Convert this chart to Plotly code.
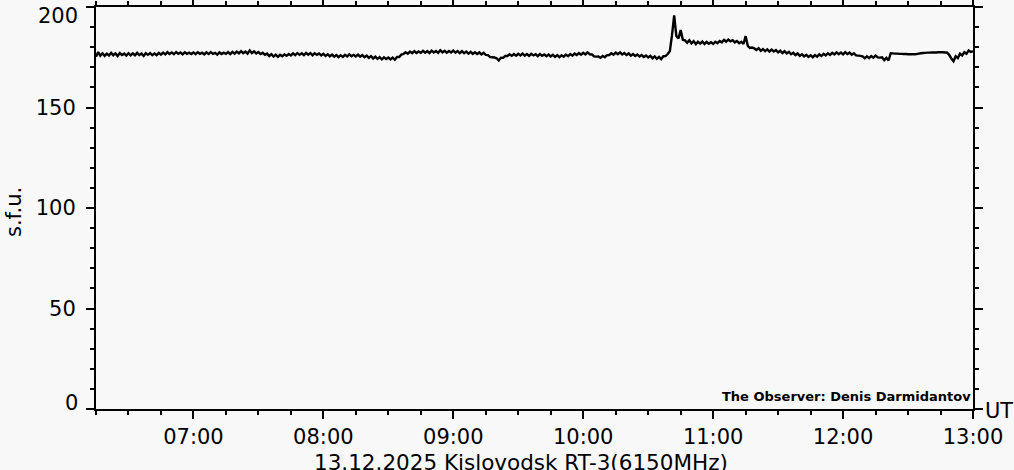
import plotly.graph_objects as go
import pandas as pd

start_time = "2025-12-13 06:15"
flux_sfu = [
    # 06:15
    175.2, 177.6, 175.8, 177.0, 175.7, 176.8, 175.9, 177.2, 176.0, 176.9, 175.6, 177.1, 176.1, 176.8, 175.8,
    # 06:30
    177.0, 175.9, 176.9, 176.0, 177.2, 176.1, 176.8, 175.7, 177.0, 176.2, 177.1, 176.0, 176.9, 176.1, 177.2,
    # 06:45
    176.3, 177.3, 176.4, 177.5, 176.6, 177.4, 176.5, 177.6, 176.7, 177.4, 176.4, 177.5, 176.7, 177.3, 176.6,
    # 07:00
    177.4, 176.5, 177.5, 176.7, 177.3, 176.4, 177.4, 176.6, 177.6, 176.7, 177.2, 176.3, 177.4, 176.6, 177.3,
    # 07:15
    176.7, 177.6, 176.6, 177.7, 176.8, 177.8, 176.9, 178.0, 177.0, 177.8, 176.8, 178.4, 177.1, 177.9, 176.9,
    # 07:30
    177.6, 176.6, 177.2, 176.2, 176.8, 175.6, 176.5, 175.3, 176.3, 175.2, 176.2, 175.5, 176.4, 175.7, 176.6,
    # 07:45
    175.9, 176.9, 176.0, 177.1, 176.2, 177.0, 176.1, 177.2, 176.3, 177.1, 176.0, 177.0, 176.2, 176.9, 175.9,
    # 08:00
    176.7, 175.7, 176.5, 175.4, 176.3, 175.3, 176.1, 175.1, 176.0, 175.2, 176.2, 175.4, 176.4, 175.5, 176.2,
    # 08:15
    175.4, 176.3, 175.3, 176.1, 175.0, 175.8, 174.7, 175.6, 174.4, 175.3, 174.2, 175.1, 174.0, 175.0, 174.1,
    # 08:30
    174.9, 173.9, 174.8, 173.8, 175.1, 175.1, 176.3, 176.6, 177.5, 176.8, 177.8, 177.0, 178.0, 177.1, 177.9,
    # 08:45
    177.2, 178.2, 177.3, 178.1, 177.1, 178.3, 177.4, 178.1, 177.2, 178.5, 177.4, 178.2, 177.3, 178.1, 177.4,
    # 09:00
    178.3, 177.3, 178.1, 177.1, 178.0, 177.0, 177.8, 176.8, 177.7, 176.7, 177.5, 176.6, 177.4, 176.4, 177.2,
    # 09:15
    176.2, 176.1, 175.1, 175.0, 174.9, 174.5, 173.4, 174.8, 174.7, 175.6, 175.6, 176.5, 175.7, 176.6, 175.8,
    # 09:30
    176.7, 175.9, 176.8, 175.8, 176.6, 175.7, 176.7, 175.9, 176.5, 175.6, 176.6, 175.7, 176.4, 175.5, 176.3,
    # 09:45
    175.4, 176.2, 175.2, 176.1, 175.1, 176.0, 175.3, 176.3, 175.5, 176.6, 175.8, 176.8, 176.1, 177.1, 176.3,
    # 10:00
    177.2, 176.4, 177.4, 176.5, 176.4, 175.4, 175.3, 175.4, 174.7, 175.6, 175.0, 176.0, 176.1, 177.0, 176.3,
    # 10:15
    177.3, 176.5, 177.4, 176.4, 177.1, 176.1, 176.9, 175.8, 176.6, 175.6, 176.4, 175.4, 176.1, 175.1, 175.9,
    # 10:30
    174.9, 175.7, 174.5, 175.4, 174.2, 175.2, 174.1, 175.5, 175.6, 176.6, 178.0, 186.0, 195.8, 185.6, 184.4,
    # 10:45
    188.5, 183.7, 183.4, 182.2, 183.5, 181.9, 183.0, 181.5, 182.7, 181.8, 182.8, 181.6, 182.6, 181.7, 182.5,
    # 11:00
    181.6, 182.7, 182.0, 183.1, 182.4, 183.6, 182.8, 183.8, 182.9, 183.5, 182.4, 183.1, 182.0, 182.7, 181.6,
    # 11:15
    185.5, 180.7, 179.6, 179.8, 179.4, 178.6, 179.5, 178.2, 179.1, 178.0, 178.9, 177.8, 178.8, 177.9, 178.6,
    # 11:30
    177.4, 178.3, 177.1, 178.0, 176.9, 177.7, 176.5, 177.2, 176.1, 176.9, 175.7, 176.5, 175.4, 176.2, 175.2,
    # 11:45
    176.0, 175.0, 176.1, 175.3, 176.4, 175.6, 176.7, 175.9, 177.0, 176.2, 177.2, 176.4, 177.4, 176.5, 177.3,
    # 12:00
    176.4, 177.5, 176.6, 177.3, 176.3, 177.0, 175.9, 175.8, 175.7, 175.4, 174.5, 175.5, 174.6, 175.6, 174.8,
    # 12:15
    175.8, 174.9, 174.8, 175.0, 173.6, 174.7, 173.4, 177.0, 176.9, 176.8, 176.8, 176.7, 176.7, 176.6, 176.6,
    # 12:30
    176.5, 176.5, 176.5, 176.5, 176.6, 176.8, 177.0, 177.1, 177.2, 177.3, 177.3, 177.4, 177.4, 177.4, 177.5,
    # 12:45
    177.5, 177.5, 177.4, 177.4, 176.2, 174.4, 173.0, 175.5, 174.6, 176.8, 175.9, 177.5, 176.7, 178.4, 177.6,
    # 13:00
    178.0,
]

x_range = ["2025-12-13 06:15", "2025-12-13 13:00"]
y_range = [0, 200]
y_ticks = [0, 50, 100, 150, 200]
y_ticktext = ["", "50", "100", "150", ""]

title_text = "13.12.2025 Kislovodsk RT-3(6150MHz)"
observer_text = "The Observer: Denis Darmidantov"
y_label = "s.f.u."
unit_label = "UT"

times = pd.date_range(start_time, periods=len(flux_sfu), freq="1min")

FONT = "DejaVu Sans"
BG = "#f8f8f8"

fig = go.Figure()
fig.add_trace(go.Scatter(x=times, y=flux_sfu, mode="lines",
                         line=dict(color="black", width=2.4, simplify=False),
                         showlegend=False, hoverinfo="skip"))

fig.update_layout(
    width=1014, height=470,
    margin=dict(l=96, r=41, t=7, b=61, autoexpand=False),
    paper_bgcolor=BG, plot_bgcolor=BG,
    font=dict(family=FONT, size=21, color="black"),
)

fig.update_xaxes(
    range=x_range, type="date", automargin=False,
    showgrid=False, zeroline=False,
    showline=True, linecolor="black", linewidth=2, mirror="ticks",
    ticks="outside", ticklen=8, tickwidth=2, tickcolor="black",
    dtick=3600000, tick0="2025-12-13 00:00", tickformat="%H:%M",
    tickfont=dict(family=FONT, size=21),
    minor=dict(ticks="outside", ticklen=4, tickwidth=2, tickcolor="black",
               dtick=900000, tick0="2025-12-13 00:00", showgrid=False),
)
fig.update_yaxes(
    range=y_range, automargin=False,
    showgrid=False, zeroline=False,
    showline=True, linecolor="black", linewidth=2, mirror="ticks",
    ticks="outside", ticklen=8, tickwidth=2, tickcolor="black",
    tickvals=y_ticks, ticktext=y_ticktext,
    tickfont=dict(family=FONT, size=21),
    ticklabelstandoff=6,
    minor=dict(ticks="outside", ticklen=4, tickwidth=2, tickcolor="black",
               dtick=10, tick0=0, showgrid=False),
)

# y labels for the end ticks (shifted inside like the original)
fig.add_annotation(text="200", x=0, xref="paper", y=200, yref="y",
                   xanchor="right", yanchor="top", xshift=-16, yshift=5,
                   showarrow=False, font=dict(family=FONT, size=21))
fig.add_annotation(text="0", x=0, xref="paper", y=0, yref="y",
                   xanchor="right", yanchor="bottom", xshift=-16, yshift=-8,
                   showarrow=False, font=dict(family=FONT, size=21))

fig.add_annotation(text=y_label, x=-0.0935, xref="paper", y=0.49, yref="paper",
                   textangle=-90, xanchor="center", yanchor="middle",
                   showarrow=False, font=dict(family=FONT, size=21))
fig.add_annotation(text=title_text, x=0.4846, xref="paper", y=0, yref="paper",
                   xanchor="center", yanchor="top", yshift=-39,
                   showarrow=False, font=dict(family=FONT, size=21.5))
fig.add_annotation(text=unit_label, x=1, xref="paper", y=0, yref="paper",
                   xanchor="left", yanchor="middle", xshift=10, yshift=-2,
                   showarrow=False, font=dict(family=FONT, size=21))
fig.add_annotation(text="<b>" + observer_text + "</b>", x=1, xref="paper", y=0, yref="paper",
                   xanchor="right", yanchor="bottom", xshift=0, yshift=3,
                   showarrow=False, font=dict(family=FONT, size=13))

fig.write_html("out.html",
               config={"displayModeBar": False},
               post_script="document.body.style.margin='0px';document.body.style.overflow='hidden';")
